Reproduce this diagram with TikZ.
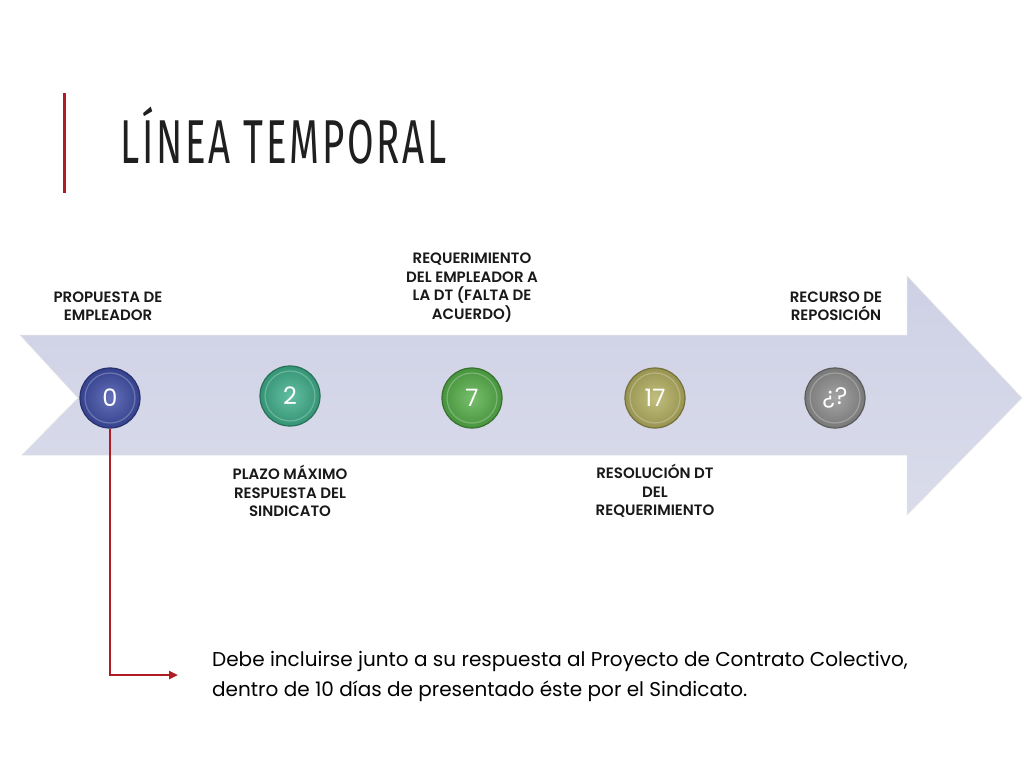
\documentclass[tikz,border=0pt]{standalone}
\usepackage{fontspec}
\setmainfont{Poppins}
\newfontfamily\titlefont[FakeStretch=0.62,LetterSpace=4.5]{Fira Sans}
\newfontfamily\labelfont{Poppins SemiBold}
\usetikzlibrary{arrows.meta,shadings}
\definecolor{arrowfill}{HTML}{CED1E5}
\definecolor{arrowfillB}{HTML}{DADCEB}
\definecolor{redline}{HTML}{B01C24}
\definecolor{cblue}{HTML}{3E4DA6}
\definecolor{cteal}{HTML}{3DAE89}
\definecolor{cgreen}{HTML}{55AE48}
\definecolor{colive}{HTML}{B3AE5E}
\definecolor{cgrey}{HTML}{8E8E8E}
\tikzset{
  lbl/.style={font=\labelfont\fontsize{15}{18.5}\selectfont, align=center, text=black!90},
  dot/.style={circle, minimum size=60pt, inner sep=0pt, draw=#1!65!black, line width=1.2pt,
     inner color=#1!80!white, outer color=#1!85!black,
     font=\fontsize{24}{24}\selectfont, text=white},
  ring/.style={circle, minimum size=50pt, inner sep=0pt, draw=white, draw opacity=0.25, line width=1.2pt},
}
\begin{document}
\begin{tikzpicture}[x=1pt,y=-1pt]
\useasboundingbox (0,0) rectangle (1024,768);
\fill[white] (0,0) rectangle (1024,768);
% title bar
\draw[redline, line width=3pt] (64,93) -- (64,193);
\node[anchor=base west, inner sep=0pt, font=\titlefont\fontsize{62}{62}\selectfont, text=black!88] (title) at (120,163) {LÍNEA TEMPORAL};
% arrow
\shade[top color=arrowfill, bottom color=arrowfillB, draw=white!80!gray, line width=0.5pt]
  (20,335) -- (907,335) -- (907,276) -- (1022,398) -- (907,515) -- (907,455) -- (22,455) -- (78,398) -- cycle;
% circles
\node[dot=cblue]  (c0) at (110,398) {0};
\node[dot=cteal]  (c2) at (290,396) {2};
\node[dot=cgreen] (c7) at (472,398) {7};
\node[dot=colive] (c17) at (655,398) {17};
\node[dot=cgrey]  (cq) at (835,398) {¿?};
\foreach \c in {c0,c2,c7,c17,cq} \node[ring] at (\c) {};
% labels
\node[lbl] (l0) at (108,306) {PROPUESTA DE\\EMPLEADOR};
\node[lbl] (l7) at (472,287.5) {REQUERIMIENTO\\DEL EMPLEADOR A\\LA DT (FALTA DE\\ACUERDO)};
\node[lbl] (lq) at (836,306) {RECURSO DE\\REPOSICIÓN};
\node[lbl] (l2) at (290,491) {PLAZO MÁXIMO\\RESPUESTA DEL\\SINDICATO};
\node[lbl] (l17) at (655,491) {RESOLUCIÓN DT\\DEL\\REQUERIMIENTO};
% note
\node[anchor=west, align=left, inner sep=0pt, font=\fontsize{20}{30}\selectfont, text=black] (note) at (212,676)
  {Debe incluirse junto a su respuesta al Proyecto de Contrato Colectivo,\\dentro de 10 días de presentado éste por el Sindicato.};
\coordinate (bend) at (110,675);
\coordinate (tipend) at (178,675);
\draw[redline, line width=2.8pt, -{Triangle[length=9pt,width=8pt]}] (c0.south) -- (bend) -- (tipend);
\end{tikzpicture}
\end{document}
